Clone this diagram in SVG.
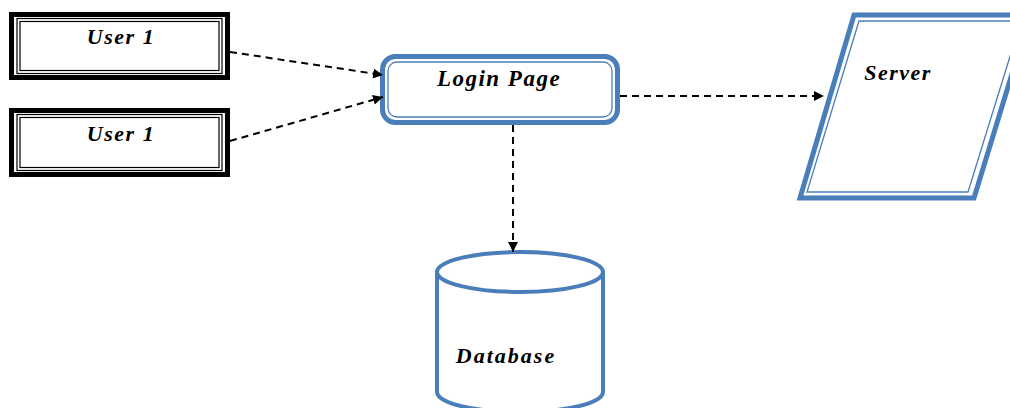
<svg xmlns="http://www.w3.org/2000/svg" width="1010" height="408" viewBox="0 0 1010 408">
  <style>
    .lbl { font-family: "Liberation Serif", "DejaVu Serif", serif; font-weight: bold; font-style: italic; fill: #000; }
    .user-outer { fill: #fff; stroke: #000; stroke-width: 5; }
    .user-inner { fill: none; stroke: #000; stroke-width: 1.2; }
    .blue-outer { fill: #fff; stroke: #4a7ebb; stroke-width: 5; }
    .blue-inner { fill: none; stroke: #4a7ebb; stroke-width: 1.3; }
    .db { fill: #fff; stroke: #4a7ebb; stroke-width: 4; }
    .conn { fill: none; stroke: #000; stroke-width: 2; stroke-dasharray: 7 5; }
  </style>
  <defs>
    <marker id="arrow" viewBox="0 0 10 10" refX="10" refY="5" markerWidth="10" markerHeight="10" markerUnits="userSpaceOnUse" orient="auto">
      <path d="M0,0 L10,5 L0,10 z" fill="#000"/>
    </marker>
  </defs>
  <rect width="1010" height="408" fill="#fff"/>

  <g id="user1a">
    <rect class="user-outer" x="11.5" y="14.5" width="216" height="63"/>
    <rect class="user-inner" x="17" y="18.5" width="205" height="55"/>
    <rect class="user-inner" x="20" y="21.5" width="199" height="49"/>
    <text class="lbl" x="121" y="44" font-size="22" letter-spacing="1.5" text-anchor="middle">User 1</text>
  </g>

  <g id="user1b">
    <rect class="user-outer" x="11.5" y="110.5" width="216" height="64"/>
    <rect class="user-inner" x="17" y="114.5" width="205" height="56"/>
    <rect class="user-inner" x="20" y="117.5" width="199" height="50"/>
    <text class="lbl" x="121" y="141" font-size="22" letter-spacing="1.5" text-anchor="middle">User 1</text>
  </g>

  <g id="login">
    <rect class="blue-outer" x="382.5" y="56.5" width="235" height="66" rx="13"/>
    <rect class="blue-inner" x="388" y="62" width="224" height="55" rx="9"/>
    <text class="lbl" x="499" y="86" font-size="23" letter-spacing="1.5" text-anchor="middle">Login Page</text>
  </g>

  <g id="server">
    <polygon class="blue-outer" points="854,15 1030,15 974,198 800,198"/>
    <polygon class="blue-inner" points="859,21 1021,21 968,192 807,192"/>
    <text class="lbl" x="898" y="80" font-size="22" letter-spacing="1.5" text-anchor="middle">Server</text>
  </g>

  <g id="database">
    <path class="db" d="M437,272 L437,392 A83,20 0 0 0 603,392 L603,272"/>
    <ellipse class="db" cx="520" cy="272" rx="83" ry="20"/>
    <text class="lbl" x="506" y="363" font-size="22" letter-spacing="2" text-anchor="middle">Database</text>
  </g>

  <g id="connectors">
    <path class="conn" d="M230,52 L383,75" marker-end="url(#arrow)"/>
    <path class="conn" d="M230,141 L383,97" marker-end="url(#arrow)"/>
    <path class="conn" d="M620,96 L824,96" marker-end="url(#arrow)"/>
    <path class="conn" d="M513,125 L513,252" marker-end="url(#arrow)"/>
  </g>
</svg>
